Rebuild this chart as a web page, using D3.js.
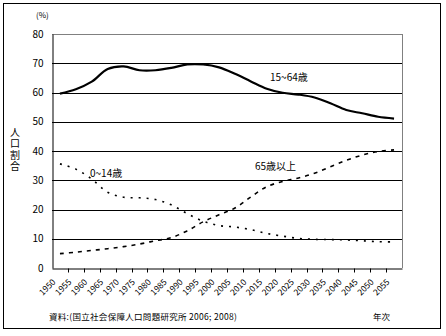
<!DOCTYPE html>
<html><head><meta charset="utf-8">
<script src="https://cdn.jsdelivr.net/npm/d3@7"></script>
<style>
html,body{margin:0;padding:0;background:#fff;}
svg{display:block;}
text{font-family:"Noto Sans CJK JP","Noto Sans",sans-serif;fill:#000;}
</style></head><body>
<svg id="c" width="446" height="336"></svg>
<script>
const years = ["1950","1955","1960","1965","1970","1975","1980","1985","1990","1995","2000","2005","2010","2015","2020","2025","2030","2035","2040","2045","2050","2055"];
const age0_14 = [35.6,33.8,30.4,25.9,24.2,24.0,23.4,21.6,18.6,16.0,14.5,14.0,13.1,11.8,10.9,10.1,9.8,9.7,9.6,9.3,9.0,8.9];
const age15_64 = [59.6,61.1,63.7,68.0,68.9,67.6,67.6,68.4,69.6,69.6,68.6,66.4,63.8,61.3,59.9,59.3,58.3,56.3,54.0,52.9,51.7,51.1];
const age65 = [4.9,5.4,6.0,6.6,7.3,8.2,9.3,10.4,12.7,15.8,18.2,20.5,24.3,27.8,29.6,30.8,32.4,34.6,36.8,38.6,39.8,40.4];
const yTicks = [0,10,20,30,40,50,60,70,80];
const seriesLabels = ["0~14歳","15~64歳","65歳以上"];
const yTitle = "人口割合";
const unitLabel = "(%)";
const sourceText = "資料:(国立社会保障人口問題研究所  2006; 2008)";
const xTitle = "年次";

const svg = d3.select("#c");
const L = 52, T = 34, W = 350, H = 234;

// outer frame
svg.append("rect").attr("x",3.5).attr("y",3.5).attr("width",437).attr("height",325)
  .attr("fill","#fff").attr("stroke","#000").attr("stroke-width",1);

const x = d3.scaleBand().domain(years).range([L, L+W]).padding(0);
const y = d3.scaleLinear().domain([0,80]).range([T+H, T]);

const g = svg.append("g");

// gridlines
g.selectAll("line.grid").data(yTicks.filter(v=>v>0 && v<80)).join("line")
  .attr("x1",L).attr("x2",L+W).attr("y1",d=>Math.round(y(d))+0.5).attr("y2",d=>Math.round(y(d))+0.5)
  .attr("stroke","#000").attr("stroke-width",1);
// plot border top/right gray
g.append("line").attr("x1",L).attr("x2",L+W+0.5).attr("y1",T+0.5).attr("y2",T+0.5).attr("stroke","#808080");
g.append("line").attr("x1",L+W+0.5).attr("x2",L+W+0.5).attr("y1",T).attr("y2",T+H).attr("stroke","#808080");

// y axis
const yAxis = d3.axisLeft(y).tickValues(yTicks).tickSize(0).tickPadding(9);
const ya = svg.append("g").attr("transform",`translate(${L+0.5},0)`).call(yAxis);
ya.select(".domain").attr("stroke","#000");
ya.selectAll("text").attr("font-size",10).attr("font-family","Liberation Sans, Arial, sans-serif");

// x axis
const xAxis = d3.axisBottom(x).tickSize(0).tickFormat("");
const xa = svg.append("g").attr("transform",`translate(0,${T+H+0.5})`).call(xAxis);
xa.select(".domain").attr("stroke","#000");
// boundary ticks
xa.selectAll("line.bt").data(years.slice(1)).join("line")
  .attr("x1",d=>Math.round(x(d))+0.5).attr("x2",d=>Math.round(x(d))+0.5).attr("y1",0).attr("y2",4)
  .attr("stroke","#000");
// rotated labels
xa.selectAll("text.xl").data(years).join("text")
  .attr("transform",d=>`translate(${x(d)+x.bandwidth()/2-6},${12}) rotate(-45)`)
  .attr("text-anchor","end").attr("dy","0.35em")
  .attr("font-size",8.5).attr("font-family","Liberation Sans, Arial, sans-serif")
  .text(d=>d);

const line = d3.line().x((d,i)=>x(years[i])+x.bandwidth()/2).y(d=>y(d)).curve(d3.curveCatmullRom.alpha(0.5));

svg.append("path").datum(age15_64).attr("d",line).attr("fill","none").attr("stroke","#000").attr("stroke-width",2.2);
svg.append("path").datum(age0_14).attr("d",line).attr("fill","none").attr("stroke","#000").attr("stroke-width",1.6).attr("stroke-dasharray","2,6");
svg.append("path").datum(age65).attr("d",line).attr("fill","none").attr("stroke","#000").attr("stroke-width",1.6).attr("stroke-dasharray","4,5");

// series labels
svg.append("text").attr("x",270).attr("y",81).attr("font-size",10).text(seriesLabels[1]);
svg.append("text").attr("x",90).attr("y",177).attr("font-size",10).text(seriesLabels[0]);
svg.append("text").attr("x",255).attr("y",170).attr("font-size",10).text(seriesLabels[2]);

// unit
svg.append("text").attr("x",36).attr("y",18).attr("font-size",8).text(unitLabel);
// y title vertical (single text, vertical writing)
svg.append("text").attr("x",15).attr("y",127)
  .attr("writing-mode","vertical-rl").style("writing-mode","vertical-rl")
  .attr("letter-spacing",1.5).attr("font-size",10).text(yTitle);
// source & x title
svg.append("text").attr("x",49).attr("y",320).attr("font-size",8.5).attr("letter-spacing",0.3).text(sourceText);
svg.append("text").attr("x",373).attr("y",320).attr("font-size",8.5).text(xTitle);
</script>
</body></html>
